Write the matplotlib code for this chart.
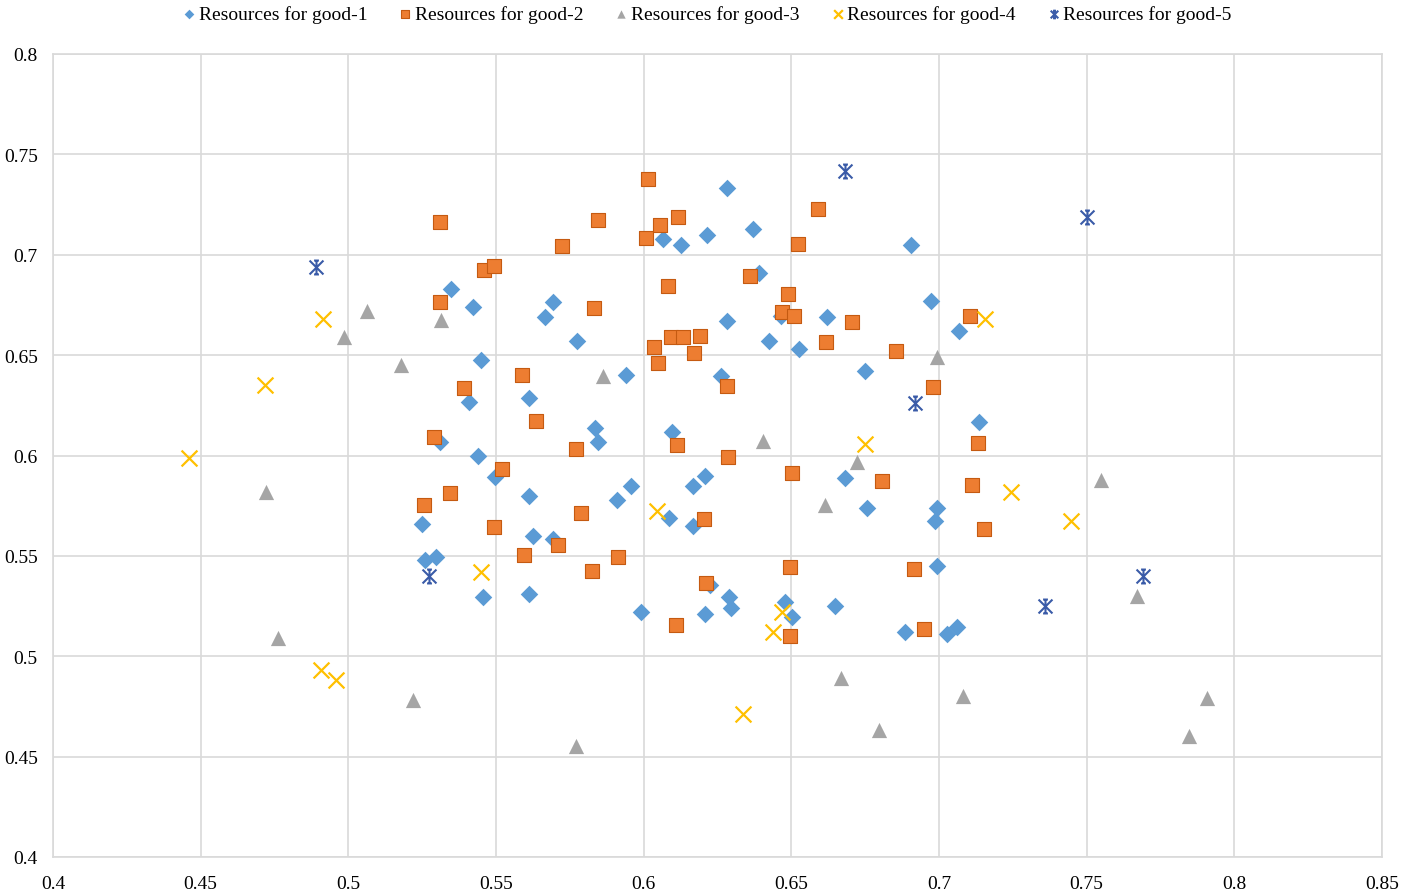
import numpy as np
import matplotlib
matplotlib.use("Agg")
import matplotlib.pyplot as plt
from matplotlib.path import Path

plt.rcParams['font.family'] = ['Liberation Serif', 'DejaVu Serif']

series_names = ["Resources for good-1", "Resources for good-2", "Resources for good-3",
                "Resources for good-4", "Resources for good-5"]

good1_x = [0.5348, 0.5423, 0.5666, 0.5449, 0.5410, 0.5613, 0.5310, 0.5438, 0.5497, 0.5613,
           0.5248, 0.5626, 0.5260, 0.5296, 0.5457, 0.5613, 0.6283, 0.6216, 0.6371, 0.6066,
           0.6127, 0.6905, 0.6392, 0.5694, 0.6283, 0.6465, 0.6621, 0.6973, 0.7068, 0.5775,
           0.6424, 0.6527, 0.5939, 0.6261, 0.6749, 0.5835, 0.5844, 0.6095, 0.6683, 0.6208,
           0.6168, 0.5957, 0.5911, 0.6087, 0.6168, 0.6757, 0.6992, 0.6986, 0.5694, 0.6992,
           0.6225, 0.6290, 0.6296, 0.5992, 0.6208, 0.6480, 0.6501, 0.6648, 0.6885, 0.7026,
           0.7062, 0.7137]
good1_y = [0.6829, 0.6741, 0.6691, 0.6476, 0.6265, 0.6286, 0.6066, 0.5999, 0.5894, 0.5800,
           0.5659, 0.5601, 0.5481, 0.5496, 0.5294, 0.5310, 0.7331, 0.7098, 0.7128, 0.7078,
           0.7049, 0.7047, 0.6911, 0.6763, 0.6671, 0.6697, 0.6691, 0.6771, 0.6622, 0.6572,
           0.6572, 0.6531, 0.6403, 0.6394, 0.6423, 0.6137, 0.6066, 0.6116, 0.5886, 0.5896,
           0.5847, 0.5847, 0.5780, 0.5687, 0.5647, 0.5737, 0.5737, 0.5675, 0.5584, 0.5448,
           0.5357, 0.5294, 0.5240, 0.5222, 0.5210, 0.5272, 0.5194, 0.5252, 0.5122, 0.5111,
           0.5144, 0.6165]

good2_x = [0.5312, 0.5460, 0.5494, 0.5312, 0.5589, 0.5392, 0.5635, 0.5291, 0.5520, 0.5345,
           0.5257, 0.5494, 0.5596, 0.6013, 0.6591, 0.5846, 0.6117, 0.6056, 0.6009, 0.5725,
           0.6521, 0.6360, 0.6083, 0.6489, 0.5833, 0.6470, 0.6510, 0.6707, 0.6094, 0.6132,
           0.6191, 0.6036, 0.6171, 0.6049, 0.6617, 0.6854, 0.6281, 0.6978, 0.6112, 0.5772,
           0.6287, 0.6503, 0.6807, 0.5787, 0.6205, 0.5711, 0.5914, 0.5826, 0.6495, 0.6915,
           0.6211, 0.6110, 0.6495, 0.6949, 0.7106, 0.7133, 0.7113, 0.7152]
good2_y = [0.7165, 0.6924, 0.6946, 0.6766, 0.6399, 0.6338, 0.6170, 0.6092, 0.5933, 0.5813,
           0.5753, 0.5645, 0.5504, 0.7377, 0.7226, 0.7175, 0.7187, 0.7147, 0.7083, 0.7044,
           0.7054, 0.6894, 0.6846, 0.6804, 0.6735, 0.6713, 0.6697, 0.6667, 0.6589, 0.6589,
           0.6597, 0.6538, 0.6509, 0.6459, 0.6567, 0.6519, 0.6348, 0.6340, 0.6052, 0.6031,
           0.5991, 0.5913, 0.5871, 0.5713, 0.5684, 0.5554, 0.5496, 0.5426, 0.5445, 0.5435,
           0.5365, 0.5157, 0.5099, 0.5136, 0.6697, 0.6062, 0.5853, 0.5634]

good3_x = [0.5064, 0.5315, 0.4984, 0.5180, 0.4720, 0.4761, 0.5220, 0.6992, 0.5863, 0.6405,
           0.6723, 0.6615, 0.6668, 0.7080, 0.6797, 0.5770, 0.7549, 0.7672, 0.7906, 0.7847]
good3_y = [0.6718, 0.6677, 0.6589, 0.6451, 0.5817, 0.5089, 0.4784, 0.6489, 0.6398, 0.6071,
           0.5966, 0.5753, 0.4892, 0.4803, 0.4634, 0.4555, 0.5878, 0.5299, 0.4792, 0.4604]

good4_x = [0.4915, 0.4719, 0.4462, 0.5449, 0.4906, 0.4957, 0.6749, 0.6044, 0.6470, 0.6439,
           0.6337, 0.7156, 0.7243, 0.7446]
good4_y = [0.6680, 0.6353, 0.5986, 0.5418, 0.4933, 0.4883, 0.6057, 0.5725, 0.5219, 0.5122,
           0.4712, 0.6680, 0.5817, 0.5675]

good5_x = [0.4889, 0.5274, 0.6682, 0.6919, 0.7502, 0.7692, 0.7359]
good5_y = [0.6937, 0.5398, 0.7419, 0.6261, 0.7190, 0.5401, 0.5252]

x_ticks = [0.4, 0.45, 0.5, 0.55, 0.6, 0.65, 0.7, 0.75, 0.8, 0.85]
x_tick_labels = ["0.4", "0.45", "0.5", "0.55", "0.6", "0.65", "0.7", "0.75", "0.8", "0.85"]
y_ticks = [0.4, 0.45, 0.5, 0.55, 0.6, 0.65, 0.7, 0.75, 0.8]
y_tick_labels = ["0.4", "0.45", "0.5", "0.55", "0.6", "0.65", "0.7", "0.75", "0.8"]

# Excel-like star marker: X with a vertical bar
star_path = Path(
    [(-1, -1), (1, 1), (-1, 1), (1, -1), (0, -1), (0, 1),
     (-0.35, 1), (0.35, 1), (-0.35, -1), (0.35, -1)],
    [Path.MOVETO, Path.LINETO, Path.MOVETO, Path.LINETO, Path.MOVETO, Path.LINETO,
     Path.MOVETO, Path.LINETO, Path.MOVETO, Path.LINETO])

fig = plt.figure(figsize=(14.11, 8.95), dpi=100)
ax = fig.add_axes([53 / 1411, 1 - 858 / 895, (1382 - 53) / 1411, (858 - 55) / 895])

grid_c = "#d9d9d9"
ax.scatter(good1_x, good1_y, marker="D", s=80, color="#5B9BD5", linewidths=0,
           label=series_names[0], zorder=3)
ax.scatter(good2_x, good2_y, marker="s", s=110, color="#ED7D31", edgecolors="#C55A11",
           linewidths=0.8, label=series_names[1], zorder=3)
ax.scatter(good3_x, good3_y, marker="^", s=120, color="#A5A5A5", linewidths=0,
           label=series_names[2], zorder=3)
ax.scatter(good4_x, good4_y, marker="x", s=130, color="#FFC000", linewidths=1.6,
           label=series_names[3], zorder=3)
ax.scatter(good5_x, good5_y, marker=star_path, s=100, color="#3A5BA8", linewidths=1.5,
           label=series_names[4], zorder=3)

ax.set_xlim(0.4, 0.85)
ax.set_ylim(0.4, 0.8)
ax.set_xticks(x_ticks)
ax.set_xticklabels(x_tick_labels)
ax.set_yticks(y_ticks)
ax.set_yticklabels(y_tick_labels)
ax.grid(True, color=grid_c, linewidth=1.2, zorder=0)
ax.set_axisbelow(True)
for sp in ax.spines.values():
    sp.set_color(grid_c)
    sp.set_linewidth(1.2)
ax.tick_params(axis="both", length=0, labelsize=14, colors="#000000")
ax.tick_params(axis="x", pad=13)
ax.tick_params(axis="y", pad=11)

leg = fig.legend(loc="upper center", bbox_to_anchor=(0.5, 1.013), ncol=5, frameon=False,
                 fontsize=14, handletextpad=0.0, columnspacing=1.45, markerscale=0.55,
                 handlelength=1.0)

fig.savefig("out.png", dpi=100)
